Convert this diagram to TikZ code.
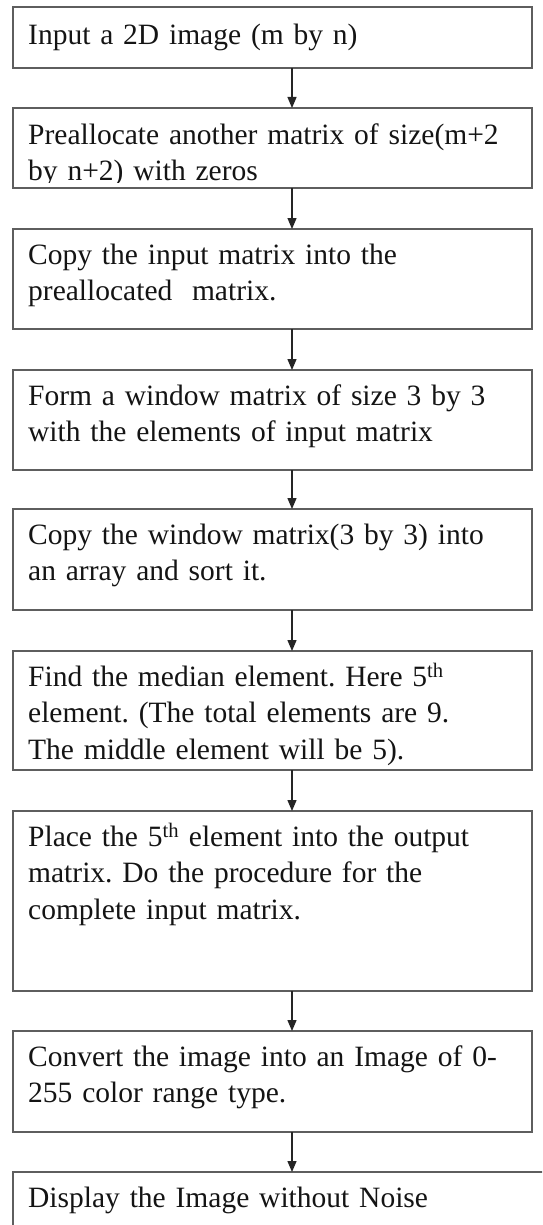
\documentclass[tikz,border=0pt]{standalone}
\usepackage{fontspec}
\setmainfont{Liberation Serif}
\usetikzlibrary{arrows.meta}
\definecolor{boxgray}{HTML}{5E5E5E}
\definecolor{inkc}{HTML}{141414}
\definecolor{arrc}{HTML}{252525}
\tikzset{
  stepbox/.style={draw=boxgray, line width=1.7pt, anchor=north west, inner sep=0pt, outer sep=0pt, minimum width=519pt},
  txt/.style={anchor=north west, inner sep=0pt, text width=505pt, align=left, text=inkc, font=\fontsize{29.5}{36.5}\selectfont\frenchspacing},
  flow/.style={draw=arrc, line width=1.3pt, -{Triangle[length=11pt,width=9pt]}}
}
\begin{document}
\begin{tikzpicture}[x=1pt,y=1pt]
\clip (0,0) rectangle (542,-1225);
\useasboundingbox (0,0) rectangle (542,-1225);
\coordinate (ax) at (292,0);
% boxes
\node[stepbox, minimum height=61pt]  (b1) at (13,-7)    {};
\node[stepbox, minimum height=80pt]  (b2) at (13,-108)  {};
\node[stepbox, minimum height=100pt] (b3) at (13,-229)  {};
\node[stepbox, minimum height=100pt] (b4) at (13,-370)  {};
\node[stepbox, minimum height=101pt] (b5) at (13,-509)  {};
\node[stepbox, minimum height=119pt] (b6) at (13,-651)  {};
\node[stepbox, minimum height=180pt] (b7) at (13,-811)  {};
\node[stepbox, minimum height=101pt] (b8) at (13,-1031) {};
\node[stepbox, minimum height=100pt, minimum width=560pt] (b9) at (13,-1172) {};
% texts
\node[txt] (t1) at (28,-18.5) {\strut Input a 2D image (m by n)};
\begin{scope}
\clip (13,-108) rectangle (532,-183);
\node[txt] (t2) at (28,-118.5) {\strut Preallocate another matrix of size(m+2\\by n+2) with zeros};
\end{scope}
\node[txt] (t3) at (28,-238.5) {\strut Copy the input matrix into the\\preallocated\ \ matrix.};
\node[txt] (t4) at (28,-379.5) {\strut Form a window matrix of size 3 by 3\\with the elements of input matrix};
\node[txt] (t5) at (28,-518.5) {\strut Copy the window matrix(3 by 3) into\\an array and sort it.};
\node[txt] (t6) at (28,-660.5) {\strut Find the median element. Here 5\textsuperscript{th}\\element. (The total elements are 9.\\The middle element\ will be 5).};
\node[txt] (t7) at (28,-820.5) {\strut Place the 5\textsuperscript{th} element into the output\\matrix. Do the procedure for the\\complete input matrix.};
\node[txt] (t8) at (28,-1040.5) {\strut Convert the image into an Image of 0-\\255\ color range type.};
\node[txt] (t9) at (28,-1181.5) {\strut Display the Image without Noise};
% arrows
\draw[flow] (b1.south -| ax) -- (b2.north -| ax);
\draw[flow] (b2.south -| ax) -- (b3.north -| ax);
\draw[flow] (b3.south -| ax) -- (b4.north -| ax);
\draw[flow] (b4.south -| ax) -- (b5.north -| ax);
\draw[flow] (b5.south -| ax) -- (b6.north -| ax);
\draw[flow] (b6.south -| ax) -- (b7.north -| ax);
\draw[flow] (b7.south -| ax) -- (b8.north -| ax);
\draw[flow] (b8.south -| ax) -- (b9.north -| ax);
\end{tikzpicture}
\end{document}
